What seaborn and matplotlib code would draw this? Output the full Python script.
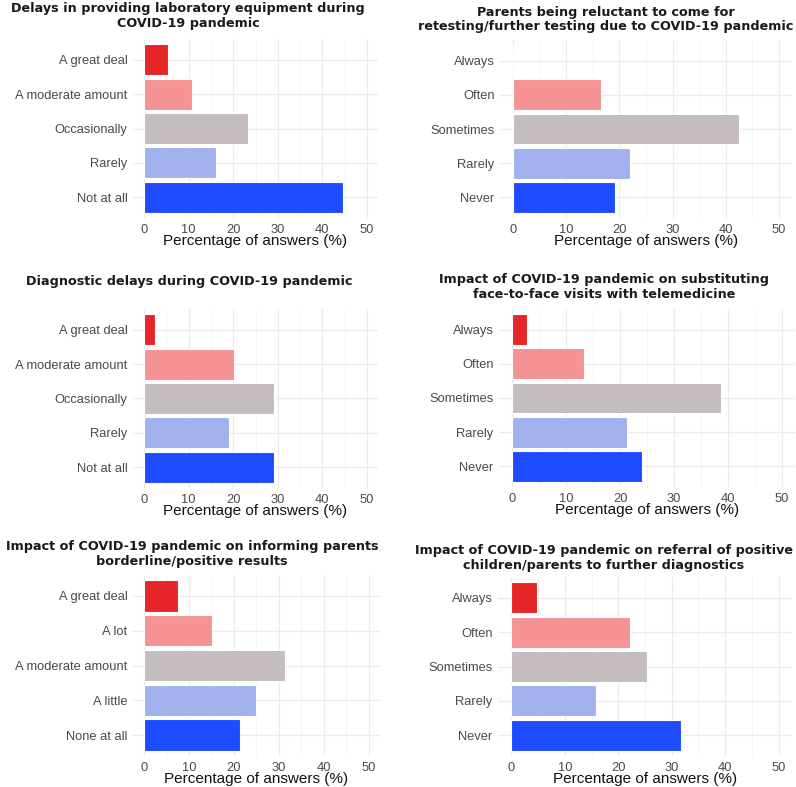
import matplotlib
matplotlib.use("Agg")
import matplotlib.pyplot as plt
import seaborn as sns
from matplotlib.ticker import MultipleLocator

# Survey answers, percentage of respondents, top category first
lab_labels = ["A great deal", "A moderate amount", "Occasionally", "Rarely", "Not at all"]
lab_values = [5.36, 10.71, 23.21, 16.07, 44.64]

retest_labels = ["Always", "Often", "Sometimes", "Rarely", "Never"]
retest_values = [0.0, 16.44, 42.47, 21.92, 19.18]

diag_labels = ["A great deal", "A moderate amount", "Occasionally", "Rarely", "Not at all"]
diag_values = [2.53, 20.25, 29.11, 18.99, 29.11]

tele_labels = ["Always", "Often", "Sometimes", "Rarely", "Never"]
tele_values = [2.67, 13.33, 38.67, 21.33, 24.0]

inform_labels = ["A great deal", "A lot", "A moderate amount", "A little", "None at all"]
inform_values = [7.5, 15.0, 31.25, 25.0, 21.25]

referral_labels = ["Always", "Often", "Sometimes", "Rarely", "Never"]
referral_values = [4.76, 22.22, 25.4, 15.87, 31.75]

titles = [
    "Delays in providing laboratory equipment during\nCOVID-19 pandemic",
    "Parents being reluctant to come for\nretesting/further testing due to COVID-19 pandemic",
    "Diagnostic delays during COVID-19 pandemic",
    "Impact of COVID-19 pandemic on substituting\nface-to-face visits with telemedicine",
    "Impact of COVID-19 pandemic on informing parents\nborderline/positive results",
    "Impact of COVID-19 pandemic on referral of positive\nchildren/parents to further diagnostics",
]

palette = ["#E52527", "#F59394", "#C5BDBD", "#A0B1EE", "#1E4BFF"]

W, H = 796, 787

# panel boxes in pixels: left, right, top, bottom ; title centre x, y
boxes = [
    (133, 378, 39, 218, 188, 16),
    (500, 792, 40, 218, 606, 19.5),
    (133, 378, 309, 488, 189, 281),
    (499, 795, 309, 487, 604, 287),
    (133, 380, 575, 756, 192, 554),
    (498, 792, 577, 756, 604, 558),
]

data = [
    (lab_labels, lab_values),
    (retest_labels, retest_values),
    (diag_labels, diag_values),
    (tele_labels, tele_values),
    (inform_labels, inform_values),
    (referral_labels, referral_values),
]

sns.set_style("white")
fig = plt.figure(figsize=(W / 100, H / 100), dpi=100)

for (labels, values), box, title in zip(data, boxes, titles):
    l, r, t, b, tx, ty = box
    ax = fig.add_axes([l / W, 1 - b / H, (r - l) / W, (b - t) / H])
    sns.barplot(x=values, y=labels, hue=labels, palette=palette, legend=False,
                orient="h", width=0.9, edgecolor="white", linewidth=0.8,
                saturation=1, ax=ax, zorder=3)
    ax.set_xlim(-2.5, 52.5)
    ax.set_ylim(4.6, -0.6)
    ax.xaxis.set_major_locator(MultipleLocator(10))
    ax.xaxis.set_minor_locator(MultipleLocator(5))
    ax.grid(True, which="major", color="#EBEBEB", linewidth=0.9, zorder=0)
    ax.grid(True, which="minor", axis="x", color="#F3F3F3", linewidth=0.6, zorder=0)
    for s in ax.spines.values():
        s.set_visible(False)
    ax.tick_params(length=0, pad=4, labelsize=9.3, labelcolor="#4A4A4A")
    for lab in ax.get_yticklabels() + ax.get_xticklabels():
        lab.set_family("Liberation Sans")
    ax.set_ylabel("")
    ax.set_xlabel("Percentage of answers (%)", fontsize=11, family="Liberation Sans",
                  color="#111111", labelpad=-1)
    fig.text(tx / W, 1 - ty / H, title, ha="center", va="center", fontsize=9.2,
             fontweight="bold", family="DejaVu Sans", color="#1A1A1A", linespacing=1.15)

fig.savefig("out.png", dpi=100, facecolor="white")
